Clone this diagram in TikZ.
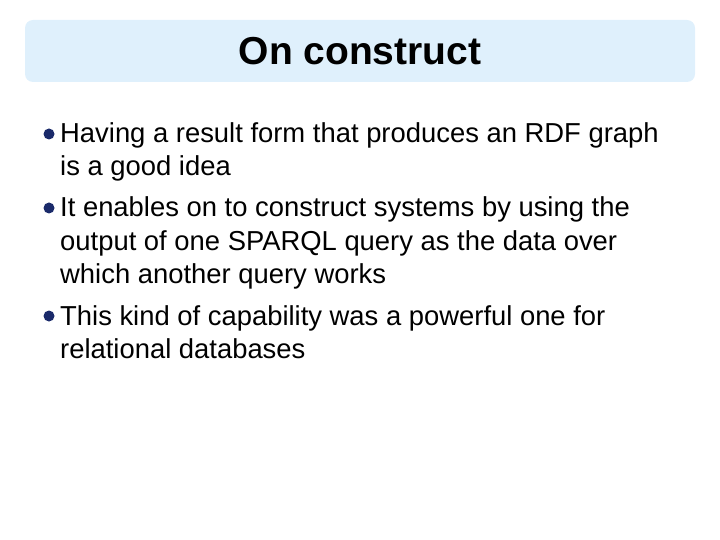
\documentclass[tikz,border=0pt]{standalone}
\usepackage{fontspec}
\setmainfont{Liberation Sans}
\definecolor{titlebg}{HTML}{DFF0FC}
\definecolor{bul}{HTML}{1A2A6A}
\begin{document}
\begin{tikzpicture}[x=1pt,y=-1pt,
  line/.style={anchor=base west,inner sep=0pt,font=\fontsize{27.4}{30}\selectfont},
  dot/.style={circle,fill=bul,inner sep=0pt,minimum size=11pt}]
\useasboundingbox (0,0) rectangle (720,540);
\node[draw=none,fill=titlebg,rounded corners=8pt,minimum width=670pt,minimum height=62pt] (title) at (360,51) {};
\node[font=\fontsize{39}{42}\selectfont\bfseries] (tt) at (360,51) {On construct};
\node[dot] (b1) at (49,134) {};
\node[line] (l1) at (60,143) {Having a result form that produces an RDF graph};
\node[line] (l2) at (60,176) {is a good idea};
\node[dot] (b2) at (49,208) {};
\node[line] (l3) at (60,217) {It enables on to construct systems by using the};
\node[line] (l4) at (60,250) {output of one SPARQL query as the data over};
\node[line] (l5) at (60,283) {which another query works};
\node[dot] (b3) at (49,316) {};
\node[line] (l6) at (60,325) {This kind of capability was a powerful one for};
\node[line] (l7) at (60,358) {relational databases};
\end{tikzpicture}
\end{document}
